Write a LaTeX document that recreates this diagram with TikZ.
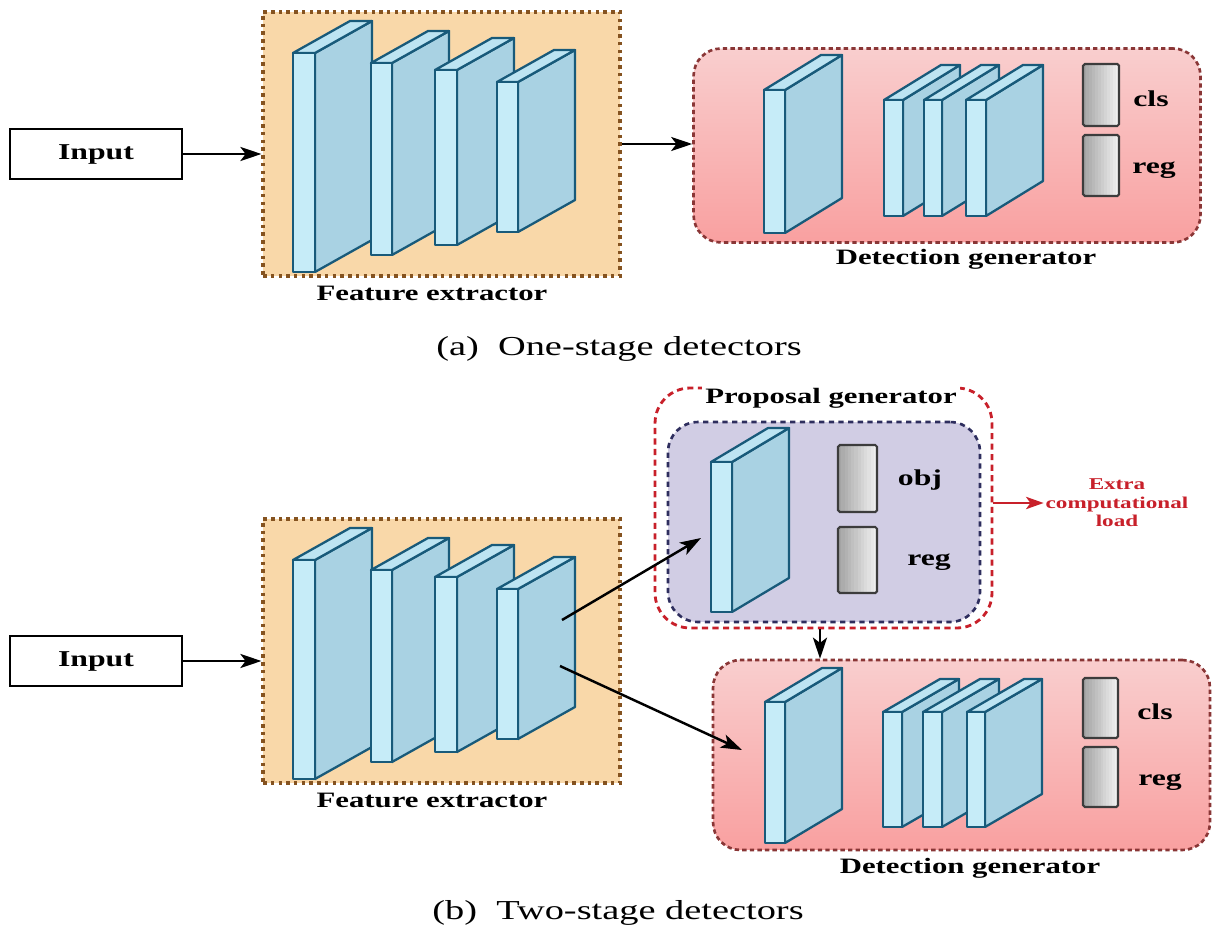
\documentclass[tikz,border=0pt]{standalone}
\usepackage{fontspec}
\setmainfont{Liberation Serif}[FakeStretch=1.4]
\usetikzlibrary{arrows.meta}

\definecolor{feFill}{HTML}{F9D8A9}
\definecolor{feLine}{HTML}{855320}
\definecolor{dgTop}{HTML}{F9CECE}
\definecolor{dgBot}{HTML}{F9A0A0}
\definecolor{dgLine}{HTML}{8A3636}
\definecolor{pgLine}{HTML}{C8202A}
\definecolor{pgFill}{HTML}{D1CDE4}
\definecolor{pgInLine}{HTML}{2E2E5E}
\definecolor{slabEdge}{HTML}{185A7A}
\definecolor{slabFront}{HTML}{C6ECF8}
\definecolor{slabSide}{HTML}{A9D2E3}
\definecolor{slabTop}{HTML}{BDE4F2}
\definecolor{barDark}{HTML}{A4A4A4}
\definecolor{barLight}{HTML}{EFEFEF}
\definecolor{barEdge}{HTML}{3C3C3C}
\definecolor{extraRed}{HTML}{C8202A}

% one convolutional layer drawn as a thin 3-D slab:
% x, top, bottom, thickness, depth dx, depth dy
\newcommand\convslab[6]{%
  \filldraw[slabline, fill=slabSide] ({#1+#4},#2) -- ++(#5,#6) -- ({#1+#4+#5},{#3+#6}) -- ({#1+#4},#3) -- cycle;
  \filldraw[slabline, fill=slabTop] (#1,#2) -- ++(#5,#6) -- ++(#4,0) -- ({#1+#4},#2) -- cycle;
  \filldraw[slabline, fill=slabFront] (#1,#2) rectangle ({#1+#4},#3);
}
% output vector of a head: grey at the left fading to near white,
% built from thin vertical strips
\newcommand\outbar[4]{%
  \foreach \k in {0,...,11}{%
    \pgfmathtruncatemacro\mixp{100-\k*100/11}%
    \fill[barDark!\mixp!barLight] ({#1+(#3-#1)*\k/12},#2) rectangle ({#1+(#3-#1)*(\k+1)/12+0.4},#4);
  }
  \draw[barline] (#1,#2) rectangle (#3,#4);
}

\tikzset{
  slabline/.style={draw=slabEdge, line width=1.3pt, line join=round},
  barline/.style={draw=barEdge, line width=1.2pt, rounded corners=1pt},
  inbox/.style={draw=black, line width=1.4pt, minimum width=3.44cm, minimum height=1cm,
    font=\fontsize{12.9}{15}\selectfont\bfseries},
  febox/.style={fill=feFill, draw=feLine, line width=1.8pt, dash pattern=on 2pt off 2.4pt,
    minimum width=7.14cm, minimum height=5.28cm},
  dgbox/.style={top color=dgTop, bottom color=dgBot, draw=dgLine, line width=1.5pt,
    dash pattern=on 2.5pt off 1.8pt, rounded corners=0.55cm},
  pgouter/.style={draw=pgLine, line width=1.6pt, dash pattern=on 3.5pt off 2.5pt,
    rounded corners=0.7cm, minimum width=6.74cm, minimum height=4.8cm},
  pginner/.style={fill=pgFill, draw=pgInLine, line width=1.5pt, dash pattern=on 3pt off 2.5pt,
    rounded corners=0.6cm, minimum width=6.24cm, minimum height=4cm},
  lbl/.style={font=\fontsize{12.5}{15}\selectfont\bfseries, inner sep=1pt},
  headlbl/.style={font=\fontsize{12.9}{15}\selectfont\bfseries, inner sep=1pt},
  captiontext/.style={font=\fontsize{15.6}{18}\selectfont},
  arr/.style={draw=black, line width=1.4pt, -{Stealth[length=12pt, width=8pt, inset=3pt]}},
  redarr/.style={draw=extraRed, line width=1.4pt, -{Stealth[length=10pt, width=7pt, inset=2.5pt]}},
}

\begin{document}
\begin{tikzpicture}[x=0.02cm, y=-0.02cm]
\fill[white] (0,0) rectangle (1216,932);
\useasboundingbox (0,0) rectangle (1216,932);

% ---------------- (a) one-stage ----------------
\node[inbox] (in1) at (96,154) {Input};
\node[febox] (fe1) at (441.5,144) {};
\node[dgbox, minimum width=10.14cm, minimum height=3.88cm] (dg1) at (947,145.5) {};

\convslab{293}{53}{272}{22}{57}{-32}
\convslab{371}{63}{255}{21}{57}{-32}
\convslab{435}{70}{245}{22}{57}{-32}
\convslab{497}{82}{232}{21}{57}{-32}

\convslab{764}{90}{233}{21}{57}{-35}
\convslab{884}{100}{216}{19}{57}{-35}
\convslab{924}{100}{216}{18}{57}{-35}
\convslab{966}{100}{216}{20}{57}{-35}
\outbar{1083}{64}{1119}{126}
\outbar{1083}{135}{1119}{196}
\node[headlbl] (cls1) at (1151,99) {cls};
\node[headlbl] (reg1) at (1154,170) {reg};

\node[lbl] (fel1) at (432,293) {Feature extractor};
\node[lbl] (dgl1) at (966,259) {Detection generator};
\node[captiontext] (capa) at (619,349) {(a)\ \ One-stage detectors};

\draw[arr] (in1.east) -- (in1.east -| fe1.west);
\draw[arr] (fe1.east) -- (fe1.east -| dg1.west);

% ---------------- (b) two-stage ----------------
\node[inbox] (in2) at (96,661) {Input};
\node[febox] (fe2) at (441.5,651) {};
\node[pgouter] (pgo) at (823.5,508) {};
\node[pginner] (pgi) at (824,522) {};
\node[dgbox, minimum width=9.94cm, minimum height=3.8cm] (dg2) at (961.5,755) {};

\convslab{293}{560}{779}{22}{57}{-32}
\convslab{371}{570}{762}{21}{57}{-32}
\convslab{435}{577}{752}{22}{57}{-32}
\convslab{497}{589}{739}{21}{57}{-32}

\convslab{711}{462}{612}{21}{57}{-34}
\outbar{838}{445}{877}{512}
\outbar{838}{527}{877}{593}
\node[headlbl] (obj) at (920,480) {obj};
\node[headlbl] (reg2) at (929,562) {reg};

\convslab{765}{702}{843}{20}{57}{-34}
\convslab{883}{712}{827}{19}{57}{-33}
\convslab{923}{712}{827}{19}{57}{-33}
\convslab{967}{712}{827}{18}{57}{-33}
\outbar{1083}{678}{1118}{738}
\outbar{1083}{747}{1118}{807}
\node[headlbl] (cls2) at (1155,712) {cls};
\node[headlbl] (reg3) at (1160,782) {reg};

\node[lbl, fill=white, inner sep=2pt] (pgl) at (831,398) {Proposal generator};
\node[lbl] (fel2) at (432,800) {Feature extractor};
\node[lbl] (dgl2) at (970,868) {Detection generator};
\node[captiontext] (capb) at (618,913) {(b)\ \ Two-stage detectors};

\node[font=\fontsize{9.4}{10.5}\selectfont\bfseries, text=extraRed, align=center, inner sep=1pt]
  (extra) at (1117,503) {Extra\\computational\\load};

\coordinate (src1) at (562,620);
\coordinate (pgin) at (701,538);
\coordinate (src2) at (560,666);
\coordinate (dgin) at (742,750);
\coordinate (dn) at (820,0);

\draw[arr] (in2.east) -- (in2.east -| fe2.west);
\draw[arr] (src1) -- (pgin);
\draw[arr] (src2) -- (dgin);
\draw[arr] (pgo.south -| dn) -- (dg2.north -| dn);
\draw[redarr] (extra.west -| pgo.east) -- (extra.west);
\end{tikzpicture}
\end{document}
